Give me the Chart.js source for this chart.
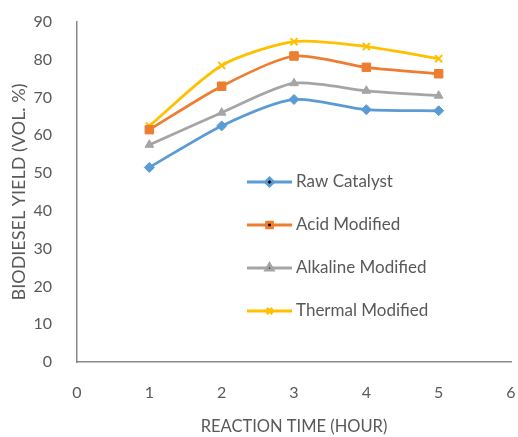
<!DOCTYPE html>
<html>
<head>
<meta charset="utf-8">
<script src="https://cdn.jsdelivr.net/npm/chart.js@4"></script>
<style>
  body { margin: 0; background: #fff; }
  #wrap { width: 518px; height: 437px; }
</style>
</head>
<body>
<div id="wrap"><canvas id="myChart" width="518" height="437"></canvas></div>
<script>
// reaction time (hour) and yields (vol %)
var hours = [1, 2, 3, 4, 5];
var rawCatalyst = [51.5, 62.5, 69.5, 66.8, 66.5];
var acidModified = [61.5, 73, 81, 78, 76.3];
var alkalineModified = [57.5, 66, 73.8, 71.8, 70.5];
var thermalModified = [62.5, 78.5, 84.8, 83.5, 80.3];
var seriesNames = ['Raw Catalyst', 'Acid Modified', 'Alkaline Modified', 'Thermal Modified'];

var colors = ['#5B9BD5', '#ED7D31', '#A5A5A5', '#FFC000'];
var markers = ['rectRot', 'rect', 'triangle', 'crossRot'];

function pts(vals) {
  return hours.map(function (h, i) { return { x: h, y: vals[i] }; });
}

function makeSet(i, vals) {
  return {
    label: seriesNames[i],
    data: pts(vals),
    borderColor: colors[i],
    backgroundColor: colors[i],
    borderWidth: 2.75,
    pointStyle: markers[i],
    pointRadius: markers[i] == 'rect' ? 6 : 5,
    pointBorderWidth: markers[i] == 'crossRot' ? 2 : 1,
    tension: 0.25,
    fill: false
  };
}

var txt = '#595959';
var fontFam = 'Lato, "Open Sans", sans-serif';

// legend drawn inside the plot area
var insideLegend = {
  id: 'insideLegend',
  afterDraw: function (chart) {
    var ctx = chart.ctx;
    var x0 = 247, x1 = 292, y = 182, gap = 43;
    chart.data.datasets.forEach(function (ds, i) {
      var yy = y + i * gap;
      ctx.save();
      ctx.strokeStyle = ds.borderColor;
      ctx.lineWidth = 3;
      ctx.beginPath();
      ctx.moveTo(x0, yy);
      ctx.lineTo(x1, yy);
      ctx.stroke();
      Chart.helpers.drawPoint(ctx, {
        pointStyle: ds.pointStyle, radius: 4, borderWidth: ds.pointBorderWidth
      }, (x0 + x1) / 2, yy);
      ctx.fillStyle = txt;
      ctx.font = '17px ' + fontFam;
      ctx.textAlign = 'left';
      ctx.textBaseline = 'middle';
      ctx.fillText(ds.label, x1 + 4, yy);
      ctx.restore();
    });
  }
};

var ctx = document.getElementById('myChart').getContext('2d');
var myChart = new Chart(ctx, {
  type: 'scatter',
  data: {
    datasets: [
      makeSet(0, rawCatalyst),
      makeSet(1, acidModified),
      makeSet(2, alkalineModified),
      makeSet(3, thermalModified)
    ]
  },
  options: {
    responsive: false,
    animation: false,
    showLine: true,
    layout: { padding: { top: 22, right: 6, left: 0, bottom: 0 } },
    plugins: {
      legend: { display: false },
      tooltip: { enabled: false }
    },
    scales: {
      x: {
        type: 'linear',
        min: 0, max: 6,
        ticks: { stepSize: 1, color: txt, font: { size: 16, family: fontFam }, padding: 0 },
        grid: { drawOnChartArea: false, drawTicks: true, tickLength: 21, color: 'rgba(0,0,0,0)' },
        border: { color: '#888', width: 1.5 },
        title: { display: true, text: 'REACTION TIME (HOUR)', color: txt, font: { size: 16.5, family: fontFam }, padding: { top: 4, bottom: 0 } },
        afterFit: function (s) { s.height = 75; }
      },
      y: {
        min: 0, max: 90,
        ticks: { stepSize: 10, color: txt, font: { size: 16, family: fontFam }, padding: 0 },
        grid: { drawOnChartArea: false, drawTicks: true, tickLength: 25, color: 'rgba(0,0,0,0)' },
        border: { color: '#888', width: 1.5 },
        title: { display: true, text: 'BIODIESEL YIELD (VOL. %)', color: txt, font: { size: 18, family: fontFam }, padding: { top: 8, bottom: 0 } },
        afterFit: function (s) { s.width = 77; }
      }
    }
  },
  plugins: [insideLegend]
});
</script>
</body>
</html>
